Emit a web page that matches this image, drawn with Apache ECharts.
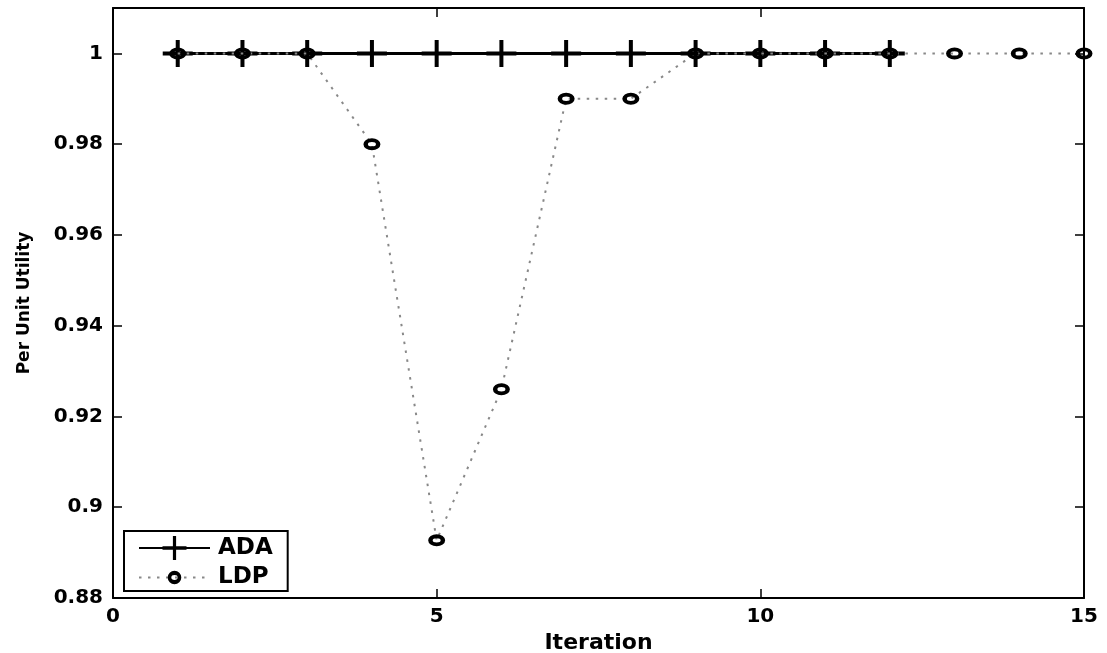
<!DOCTYPE html>
<html>
<head>
<meta charset="utf-8">
<script src="https://cdn.jsdelivr.net/npm/echarts@6/dist/echarts.min.js"></script>
<style>html,body{margin:0;padding:0;background:#fff;overflow:hidden}#c{width:1107px;height:653px;display:block}</style>
</head>
<body>
<div id="c"></div>
<script>
const iterationsADA = [1,2,3,4,5,6,7,8,9,10,11,12];
const valuesADA = [1,1,1,1,1,1,1,1,1,1,1,1];
const iterationsLDP = [1,2,3,4,5,6,7,8,9,10,11,12,13,14,15];
const valuesLDP = [1,1,1,0.98,0.8927,0.926,0.99,0.99,1,1,1,1,1,1,1];
const yTicks = [0.88,0.9,0.92,0.94,0.96,0.98,1];
const xTicks = [0,5,10,15];

const FONT = '"DejaVu Sans", Arial, sans-serif';
const plus = 'path://M13,0H17V27H13Z M0,11.5H30V15.5H0Z';
const ring = 'path://M0,6A8.5,6 0 1,1 17,6A8.5,6 0 1,1 0,6Z M4.5,6A4,2.2 0 1,0 12.5,6A4,2.2 0 1,0 4.5,6Z';
const fmt = v => String(Number(Number(v).toFixed(2)));

const chart = echarts.init(document.getElementById('c'), null, {renderer:'canvas'});
const axisLine = {show:true, onZero:false, lineStyle:{color:'#000', width:2}};
const tick = {inside:true, length:9, lineStyle:{color:'#000', width:1.5}};
const legendText = {color:'#000', fontFamily:FONT, fontWeight:'bold', fontSize:23, padding:[0,0,0,3]};
chart.setOption({
  animation:false,
  backgroundColor:'#fff',
  grid:{left:113, right:23, top:8, bottom:55, containLabel:false, outerBoundsMode:'none'},
  xAxis:[
    {type:'value', min:0, max:15, interval:5, position:'bottom',
     axisLine, splitLine:{show:false},
     axisTick:Object.assign({customValues:xTicks}, tick),
     axisLabel:{color:'#000', fontFamily:FONT, fontWeight:'bold', fontSize:20, margin:9, customValues:xTicks, formatter:fmt},
     name:'Iteration', nameLocation:'middle', nameGap:24,
     nameTextStyle:{color:'#000', fontFamily:FONT, fontWeight:'bold', fontSize:22}},
    {type:'value', min:0, max:15, interval:5, position:'top',
     axisLine, splitLine:{show:false},
     axisTick:Object.assign({customValues:xTicks}, tick),
     axisLabel:{show:false}}
  ],
  yAxis:[
    {type:'value', min:0.88, max:1.01, interval:0.02, position:'left',
     axisLine, splitLine:{show:false},
     axisTick:Object.assign({customValues:yTicks}, tick),
     axisLabel:{color:'#000', fontFamily:FONT, fontWeight:'bold', fontSize:20, margin:10, customValues:yTicks, formatter:fmt},
     name:'Per Unit Utility', nameLocation:'middle', nameGap:80, nameRotate:90,
     nameTextStyle:{color:'#000', fontFamily:FONT, fontWeight:'bold', fontSize:17}},
    {type:'value', min:0.88, max:1.01, interval:0.02, position:'right',
     axisLine, splitLine:{show:false},
     axisTick:Object.assign({customValues:yTicks}, tick),
     axisLabel:{show:false}}
  ],
  legend:[
    {left:124, top:531, orient:'vertical', padding:[5,15,31,14], z:4,
     backgroundColor:'#fff', borderColor:'#000', borderWidth:2, borderRadius:0,
     itemWidth:71, itemHeight:30, textStyle:legendText, data:['ADA']},
    {left:138, top:566, orient:'vertical', padding:0, z:10,
     itemWidth:71, itemHeight:17, textStyle:legendText, data:['LDP']}
  ],
  series:[
    {name:'ADA', type:'line', data:iterationsADA.map((x,i)=>[x,valuesADA[i]]),
     symbol:plus, symbolSize:[30,27], showAllSymbol:true, clip:false,
     lineStyle:{color:'#000', width:3},
     itemStyle:{color:'#000', borderWidth:0},
     z:2},
    {name:'LDP', type:'line', data:iterationsLDP.map((x,i)=>[x,valuesLDP[i]]),
     symbol:ring, symbolSize:[17,12], showAllSymbol:true, clip:false,
     lineStyle:{color:'#888', width:2, type:[2.5,6.5]},
     itemStyle:{color:'#000', borderWidth:0},
     z:3}
  ]
});
</script>
</body>
</html>
